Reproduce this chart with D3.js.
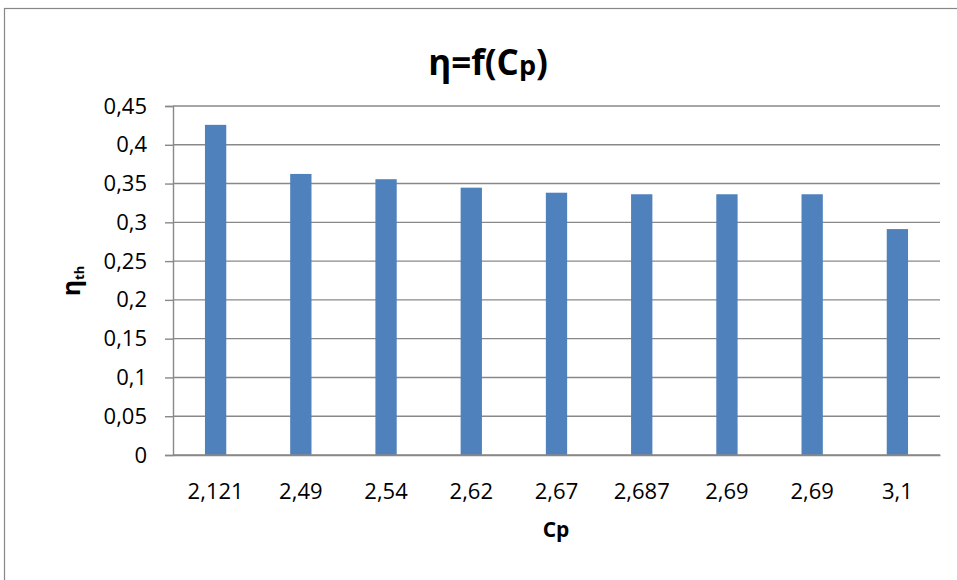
<!DOCTYPE html>
<html>
<head>
<meta charset="utf-8">
<script src="https://cdn.jsdelivr.net/npm/d3@7"></script>
<style>
  body { margin: 0; background: #fff; }
  text { font-family: "Open Sans", sans-serif; fill: #000; }
</style>
</head>
<body>
<div id="chart"></div>
<script>
// ---------------- data ----------------
var categories = ["2,121", "2,49", "2,54", "2,62", "2,67", "2,687", "2,69", "2,69", "3,1"];
var efficiency = [0.4257, 0.3624, 0.3556, 0.3447, 0.3382, 0.3362, 0.3362, 0.3362, 0.2913];
var yTicks = [0, 0.05, 0.1, 0.15, 0.2, 0.25, 0.3, 0.35, 0.4, 0.45];

// ---------------- canvas ----------------
var svgWidth = 957, svgHeight = 580;
var margin = {left: 173, right: 17, top: 106, bottom: 125};
var w = svgWidth - margin.left - margin.right,
    h = svgHeight - margin.top - margin.bottom;

var svg = d3.select("#chart").append("svg")
  .attr("width", svgWidth)
  .attr("height", svgHeight);

// chart outer border (runs off the page on right / bottom)
svg.append("rect")
  .attr("x", 4.5).attr("y", 8.5)
  .attr("width", 1000).attr("height", 700)
  .attr("fill", "none")
  .attr("stroke", "#878787")
  .attr("stroke-width", 1.2);

var g = svg.append("g")
  .attr("transform", `translate(${margin.left}, ${margin.top})`);

// ---------------- scales ----------------
var x = d3.scaleBand()
  .domain(d3.range(categories.length))
  .range([0, w])
  .paddingInner(0.75)
  .paddingOuter(0.375);

var y = d3.scaleLinear()
  .domain([0, 0.45])
  .range([h, 0]);

// decimal comma
var fmt = function(d) { return d3.format("")(+d.toFixed(2)).replace(".", ","); };

// gridlines
g.selectAll(".grid")
  .data(yTicks.filter(d => d > 0))
  .enter().append("line")
    .attr("x1", 0).attr("x2", w)
    .attr("y1", d => y(d)).attr("y2", d => y(d))
    .attr("stroke", "#898989")
    .attr("stroke-width", 1.4);

// y axis
var yAxis = g.append("g")
  .call(d3.axisLeft(y).tickValues(yTicks).tickSize(8).tickPadding(18).tickFormat(fmt));
yAxis.select(".domain").attr("stroke", "#898989").attr("stroke-width", 1.4);
yAxis.selectAll(".tick line").attr("stroke", "#898989").attr("stroke-width", 1.4);
yAxis.selectAll("text")
  .style("font-size", "22px")
  .style("font-family", "Open Sans")
  .attr("fill", "#000");

// x axis
var xAxis = g.append("g")
  .attr("transform", `translate(0, ${h})`)
  .call(d3.axisBottom(x).tickSize(0).tickPadding(28).tickFormat(i => categories[i]));
xAxis.select(".domain").attr("stroke", "#898989").attr("stroke-width", 1.4);
xAxis.selectAll("text")
  .style("font-size", "22px")
  .style("font-family", "Open Sans")
  .attr("fill", "#000");

// bars
g.selectAll(".bar")
  .data(efficiency)
  .enter().append("rect")
    .attr("x", (d, i) => x(i))
    .attr("width", x.bandwidth())
    .attr("y", d => y(d))
    .attr("height", d => h - y(d))
    .attr("fill", "#4f81bd");

// redraw bottom axis line above bars
g.append("line")
  .attr("x1", 0).attr("x2", w)
  .attr("y1", h).attr("y2", h)
  .attr("stroke", "#898989").attr("stroke-width", 1.4);

// ---------------- labels ----------------
var title = svg.append("text")
  .attr("x", 488).attr("y", 75)
  .attr("text-anchor", "middle")
  .style("font-size", "35px")
  .style("font-weight", "bold");
title.append("tspan").text("η=f(C");
title.append("tspan").style("font-size", "27px").text("p");
title.append("tspan").text(")");

var xLabel = svg.append("text")
  .attr("x", 556).attr("y", 537)
  .attr("text-anchor", "middle")
  .style("font-size", "21px")
  .style("font-weight", "bold");
xLabel.append("tspan").text("C");
xLabel.append("tspan").text("p");

var yLabel = svg.append("text")
  .attr("transform", "translate(80, 281) rotate(-90)")
  .attr("text-anchor", "middle")
  .style("font-size", "25px")
  .style("font-weight", "bold");
yLabel.append("tspan").text("η");
yLabel.append("tspan").style("font-size", "13px").attr("dy", 4).text("th");
</script>
</body>
</html>
